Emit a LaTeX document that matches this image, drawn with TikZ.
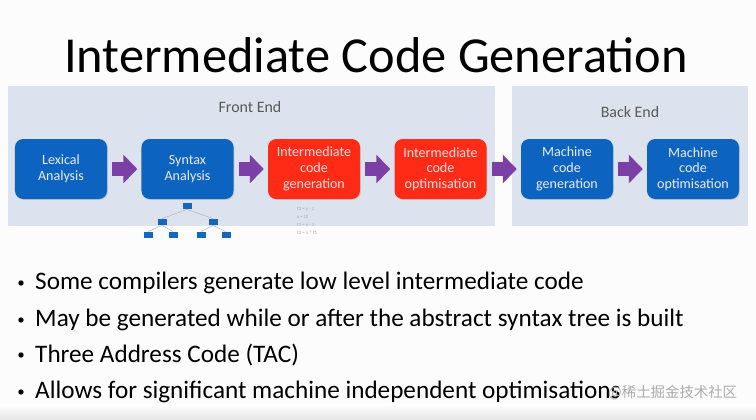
\documentclass[tikz,border=0pt]{standalone}
\usepackage{fontspec}
\setmainfont{Carlito}
\newfontfamily\cjk{Noto Sans CJK SC}
\usetikzlibrary{arrows.meta,shadows,positioning}
\definecolor{panel}{HTML}{DCE3EE}
\definecolor{boxblue}{HTML}{0D64C0}
\definecolor{boxred}{HTML}{FF2B17}
\definecolor{flow}{HTML}{7B3FA6}
\definecolor{treeblue}{HTML}{1466BE}

\begin{document}
\begin{tikzpicture}[x=0.03cm,y=-0.03cm,
  stage/.style={rounded corners=7pt,minimum width=2.76cm,minimum height=1.8cm,
    align=center,font=\fontsize{12}{13.4}\selectfont,
    drop shadow={opacity=0.25,shadow xshift=0.8pt,shadow yshift=-0.8pt}},
  bluestage/.style={stage,fill=boxblue,text=blue!8!white},
  redstage/.style={stage,fill=boxred,text=red!12!white},
  flowarrow/.style={draw=flow,line width=0.42cm,
    -{Triangle[width=0.84cm,length=0.42cm]},shorten <=0.15cm,shorten >=0.12cm},
  leaf/.style={fill=treeblue,minimum width=0.27cm,minimum height=0.19cm,inner sep=0pt},
  branch/.style={draw=gray!60,line width=0.4pt},
  tac/.style={font=\fontsize{4.2}{5}\selectfont,text=gray!70,anchor=west,inner sep=0pt},
  item/.style={font=\fontsize{21.5}{26}\selectfont,anchor=west,inner sep=0pt}]
  \useasboundingbox (0,0) rectangle (756,420);
  \fill[white!98!gray] (0,0) rectangle (756,420);
  \shade[top color=white,bottom color=gray!20] (0,404) rectangle (756,420);
  % title
  \node[font=\fontsize{43}{50}\selectfont] (title) at (376,55) {Intermediate Code Generation};
  % the two halves
  \fill[panel] (8,86) rectangle (495,226);
  \fill[panel] (512,86) rectangle (748,226);
  \node[font=\fontsize{13.6}{16}\selectfont,text=black!65] (front) at (250,107) {Front End};
  \node[font=\fontsize{13.6}{16}\selectfont,text=black!65] (back) at (630,112) {Back End};
  % stages
  \node[bluestage] (lex) at (61,169) {Lexical\\Analysis};
  \node[bluestage] (syn) at (187.5,169) {Syntax\\Analysis};
  \node[redstage] (icg) at (314,169) {Intermediate\\code\\generation};
  \node[redstage] (ico) at (440.5,169) {Intermediate\\code\\optimisation};
  \node[bluestage] (mcg) at (567,169) {Machine\\code\\generation};
  \node[bluestage] (mco) at (693,169) {Machine\\code\\optimisation};
  \draw[flowarrow] (lex) -- (syn);
  \draw[flowarrow] (syn) -- (icg);
  \draw[flowarrow] (icg) -- (ico);
  \draw[flowarrow] (ico) -- (mcg);
  \draw[flowarrow] (mcg) -- (mco);
  % syntax tree
  \node[leaf] (t0) at (187,206) {};
  \node[leaf] (t1) at (162,222) {};
  \node[leaf] (t2) at (213,222) {};
  \node[leaf] (t3) at (148,235) {};
  \node[leaf] (t4) at (173,235) {};
  \node[leaf] (t5) at (201,235) {};
  \node[leaf] (t6) at (226,235) {};
  \draw[branch] (t0.south) -- (t1.north);
  \draw[branch] (t0.south) -- (t2.north);
  \draw[branch] (t1.south) -- (t3.north);
  \draw[branch] (t1.south) -- (t4.north);
  \draw[branch] (t2.south) -- (t5.north);
  \draw[branch] (t2.south) -- (t6.north);
  % three address code
  \node[tac] (c1) at (297,209) {t2 = y - z};
  \node[tac] (c2) at (297,217) {x = t2};
  \node[tac] (c3) at (297,225) {t1 = y - z};
  \node[tac] (c4) at (297,233) {t2 = x * t1};
  % bullets
  \foreach \y/\t [count=\i] in {283/Some compilers generate low level intermediate code,
      320/May be generated while or after the abstract syntax tree is built,
      355/Three Address Code (TAC),
      392/Allows for significant machine independent optimisations}
    \node[item] (b\i) at (35,\y) {\t};
  \foreach \y [count=\i] in {283,320,355,392}
    \fill (21,\y) circle (2.3pt);
  \node[font=\cjk\fontsize{12.3}{14}\selectfont,text=gray!65,anchor=west,inner sep=0pt]
    (mark) at (608,393) {@稀土掘金技术社区};
\end{tikzpicture}
\end{document}
